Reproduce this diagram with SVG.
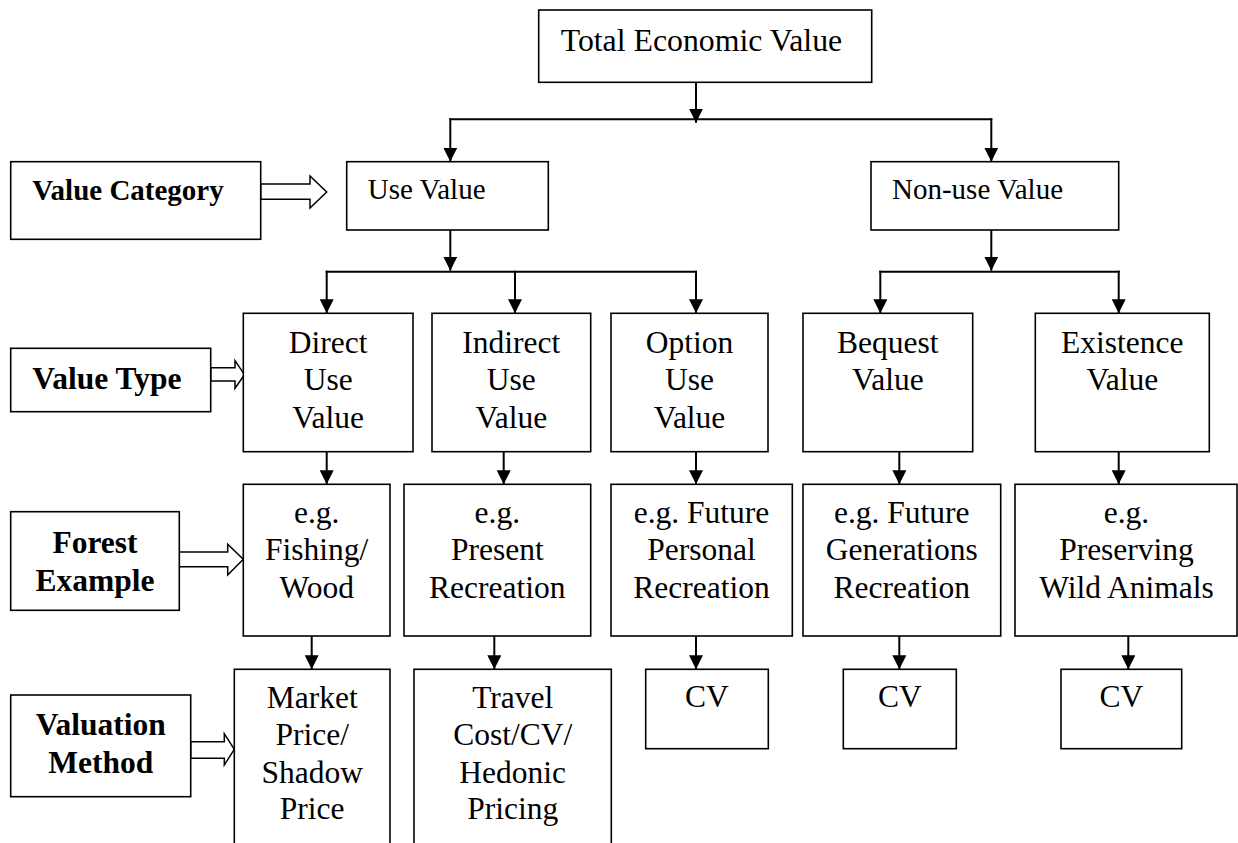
<svg xmlns="http://www.w3.org/2000/svg" width="1238" height="843" viewBox="0 0 1238 843">
<style>
  .box { fill: #ffffff; stroke: #000000; stroke-width: 1.6; }
  .hollow { fill: #ffffff; stroke: #000000; stroke-width: 1.5; stroke-linejoin: miter; }
  .t { font-family: "Liberation Serif", "Times New Roman", serif; font-size: 31.5px; fill: #000000; }
  .c { text-anchor: middle; }
  .s { font-size: 29px; }
  .b { font-weight: bold; }
  .big { font-size: 31.8px; }
  .conn line { stroke: #000000; stroke-width: 2; }
</style>
<defs>
  <marker id="ah" markerUnits="userSpaceOnUse" markerWidth="15" markerHeight="15" refX="14" refY="7" orient="auto">
    <path d="M0,0 L14,7 L0,14 Z" fill="#000000"/>
  </marker>
</defs>
<rect width="1238" height="843" fill="#ffffff"/>

<g id="connectors" class="conn">
  <line x1="696" y1="78" x2="696" y2="122.7" marker-end="url(#ah)"/>
  <line x1="449.3" y1="119.3" x2="992.3" y2="119.3"/>
  <line x1="450.3" y1="118.3" x2="450.3" y2="161.7" marker-end="url(#ah)"/>
  <line x1="991.3" y1="118.3" x2="991.3" y2="161.7" marker-end="url(#ah)"/>
  <line x1="450.3" y1="225" x2="450.3" y2="270.7" marker-end="url(#ah)"/>
  <line x1="325.7" y1="271.7" x2="697" y2="271.7"/>
  <line x1="326.7" y1="270.7" x2="326.7" y2="313.3" marker-end="url(#ah)"/>
  <line x1="515" y1="270.7" x2="515" y2="313.3" marker-end="url(#ah)"/>
  <line x1="696" y1="270.7" x2="696" y2="313.3" marker-end="url(#ah)"/>
  <line x1="991.3" y1="225" x2="991.3" y2="270.7" marker-end="url(#ah)"/>
  <line x1="879.3" y1="271.7" x2="1119.7" y2="271.7"/>
  <line x1="880.3" y1="270.7" x2="880.3" y2="313.3" marker-end="url(#ah)"/>
  <line x1="1118.7" y1="270.7" x2="1118.7" y2="313.3" marker-end="url(#ah)"/>
  <line x1="326.7" y1="442.7" x2="326.7" y2="484.3" marker-end="url(#ah)"/>
  <line x1="503.7" y1="442.7" x2="503.7" y2="484.3" marker-end="url(#ah)"/>
  <line x1="696" y1="442.7" x2="696" y2="484.3" marker-end="url(#ah)"/>
  <line x1="899.3" y1="442.7" x2="899.3" y2="484.3" marker-end="url(#ah)"/>
  <line x1="1118.7" y1="442.7" x2="1118.7" y2="484.3" marker-end="url(#ah)"/>
  <line x1="311.7" y1="627" x2="311.7" y2="669.3" marker-end="url(#ah)"/>
  <line x1="494.3" y1="627" x2="494.3" y2="669.3" marker-end="url(#ah)"/>
  <line x1="696" y1="627" x2="696" y2="669.3" marker-end="url(#ah)"/>
  <line x1="899.3" y1="627" x2="899.3" y2="669.3" marker-end="url(#ah)"/>
  <line x1="1128.3" y1="627" x2="1128.3" y2="669.3" marker-end="url(#ah)"/>
  <polygon class="hollow" points="260.7,184 310,184 310,176 326.7,192 310,208 310,199.3 260.7,199.3"/>
  <polygon class="hollow" points="210.7,367.7 235,367.7 235,360.7 244.5,374.7 235,388.3 235,381 210.7,381"/>
  <polygon class="hollow" points="179.3,552 227.7,552 227.7,544.3 243.3,559.3 227.7,575 227.7,566.7 179.3,566.7"/>
  <polygon class="hollow" points="190.7,741.7 224.3,741.7 224.3,733.7 234.3,749.3 224.3,765 224.3,758.3 190.7,758.3"/>
</g>

<g id="total">
  <rect class="box" x="538.7" y="10" width="333" height="72.3"/>
  <text class="t big" x="560.7" y="50.7">Total Economic Value</text>
</g>

<g id="label-category">
  <rect class="box" x="10.7" y="161.7" width="250" height="77.6"/>
  <text class="t s b" x="32.3" y="200">Value Category</text>
</g>
<g id="use-value">
  <rect class="box" x="346.7" y="161.7" width="201.6" height="68.3"/>
  <text class="t s" x="367.7" y="199.3">Use Value</text>
</g>
<g id="nonuse-value">
  <rect class="box" x="871" y="161.7" width="247.7" height="68.3"/>
  <text class="t s" x="892" y="199.3">Non-use Value</text>
</g>

<g id="label-type">
  <rect class="box" x="10.7" y="348.3" width="200" height="63.4"/>
  <text class="t b" x="32.3" y="389.3">Value Type</text>
</g>
<g id="direct">
  <rect class="box" x="243.3" y="313.3" width="169.7" height="138.4"/>
  <text class="t c" x="328.2" y="352.7">Direct</text>
  <text class="t c" x="328.2" y="390">Use</text>
  <text class="t c" x="328.2" y="427.5">Value</text>
</g>
<g id="indirect">
  <rect class="box" x="432" y="313.3" width="158.7" height="138.4"/>
  <text class="t c" x="511.3" y="352.7">Indirect</text>
  <text class="t c" x="511.3" y="390">Use</text>
  <text class="t c" x="511.3" y="427.5">Value</text>
</g>
<g id="option">
  <rect class="box" x="611" y="313.3" width="157" height="138.4"/>
  <text class="t c" x="689.5" y="352.7">Option</text>
  <text class="t c" x="689.5" y="390">Use</text>
  <text class="t c" x="689.5" y="427.5">Value</text>
</g>
<g id="bequest">
  <rect class="box" x="803" y="313.3" width="169.7" height="138.4"/>
  <text class="t c" x="887.8" y="352.7">Bequest</text>
  <text class="t c" x="887.8" y="390">Value</text>
</g>
<g id="existence">
  <rect class="box" x="1035.3" y="313.3" width="174" height="138.4"/>
  <text class="t c" x="1122.3" y="352.7">Existence</text>
  <text class="t c" x="1122.3" y="390">Value</text>
</g>

<g id="label-forest">
  <rect class="box" x="10.7" y="511.7" width="168.6" height="98.6"/>
  <text class="t c b" x="95" y="552.7">Forest</text>
  <text class="t c b" x="95" y="591">Example</text>
</g>
<g id="ex-fishing">
  <rect class="box" x="243.3" y="484.3" width="146.7" height="151.7"/>
  <text class="t c" x="316.7" y="522.7">e.g.</text>
  <text class="t c" x="316.7" y="560.2">Fishing/</text>
  <text class="t c" x="316.7" y="597.7">Wood</text>
</g>
<g id="ex-present">
  <rect class="box" x="404" y="484.3" width="186.7" height="151.7"/>
  <text class="t c" x="497.3" y="522.7">e.g.</text>
  <text class="t c" x="497.3" y="560.2">Present</text>
  <text class="t c" x="497.3" y="597.7">Recreation</text>
</g>
<g id="ex-personal">
  <rect class="box" x="611" y="484.3" width="181.3" height="151.7"/>
  <text class="t c" x="701.5" y="522.7">e.g. Future</text>
  <text class="t c" x="701.5" y="560.2">Personal</text>
  <text class="t c" x="701.5" y="597.7">Recreation</text>
</g>
<g id="ex-generations">
  <rect class="box" x="803" y="484.3" width="197.7" height="151.7"/>
  <text class="t c" x="901.8" y="522.7">e.g. Future</text>
  <text class="t c" x="901.8" y="560.2">Generations</text>
  <text class="t c" x="901.8" y="597.7">Recreation</text>
</g>
<g id="ex-wild">
  <rect class="box" x="1015" y="484.3" width="222" height="151.7"/>
  <text class="t c" x="1126.5" y="522.7">e.g.</text>
  <text class="t c" x="1126.5" y="560.2">Preserving</text>
  <text class="t c" x="1126.5" y="597.7">Wild Animals</text>
</g>

<g id="label-method">
  <rect class="box" x="10.7" y="695" width="180" height="101.7"/>
  <text class="t c b" x="100.7" y="735">Valuation</text>
  <text class="t c b" x="100.7" y="772.7">Method</text>
</g>
<g id="m-market">
  <rect class="box" x="234.3" y="669.3" width="155.7" height="200"/>
  <text class="t c" x="312.2" y="707.7">Market</text>
  <text class="t c" x="312.2" y="745">Price/</text>
  <text class="t c" x="312.2" y="782.7">Shadow</text>
  <text class="t c" x="312.2" y="819.3">Price</text>
</g>
<g id="m-travel">
  <rect class="box" x="414" y="669.3" width="197.3" height="200"/>
  <text class="t c" x="512.7" y="707.7">Travel</text>
  <text class="t c" x="512.7" y="745">Cost/CV/</text>
  <text class="t c" x="512.7" y="782.7">Hedonic</text>
  <text class="t c" x="512.7" y="819.3">Pricing</text>
</g>
<g id="m-cv1">
  <rect class="box" x="645.7" y="669.3" width="122.6" height="79.4"/>
  <text class="t c" x="707" y="707">CV</text>
</g>
<g id="m-cv2">
  <rect class="box" x="843.3" y="669.3" width="113" height="79.4"/>
  <text class="t c" x="899.8" y="707">CV</text>
</g>
<g id="m-cv3">
  <rect class="box" x="1061" y="669.3" width="120.7" height="79.4"/>
  <text class="t c" x="1121.4" y="707">CV</text>
</g>
</svg>
